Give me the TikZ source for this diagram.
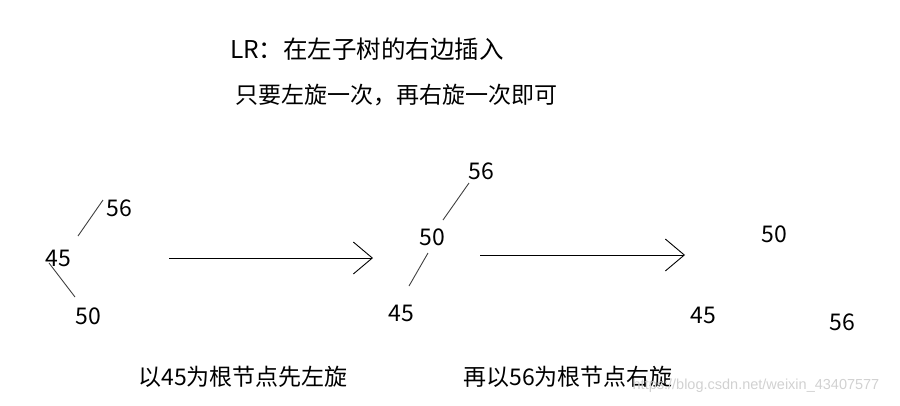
\documentclass[tikz,border=0pt]{standalone}
\usepackage{fontspec}
\setmainfont{Noto Sans CJK SC}
\newfontfamily\urlfont{Liberation Sans}
\usepackage{tikz}
\usetikzlibrary{arrows.meta,positioning}
\tikzstyle{num} = [inner sep=0pt, font=\fontsize{23}{26}\selectfont]
\tikzstyle{note} = [inner sep=0pt, font=\fontsize{23}{26}\selectfont]
\tikzstyle{edge} = [draw, black!75, line width=0.9pt]
\tikzstyle{line} = [draw, line width=0.9pt, -{Straight Barb[length=19pt,width=32pt]}]

\begin{document}
\begin{tikzpicture}[x=1pt, y=-1pt]
    \useasboundingbox (0,0) rectangle (900,405);
    % titel
    \node [note, font=\fontsize{24.5}{28}\selectfont] (title) at (367,49) {LR：在左子树的右边插入};
    \node [note] (hint) at (396,95) {只要左旋一次，再右旋一次即可};
    % eerste boom
    \node [num] (a56) at (119,208) {56};
    \node [num] (a45) at (58,258) {45};
    \node [num] (a50) at (88,316) {50};
    \path [edge] (78,236) -- (103,200);
    \path [edge] (49,263) -- (75,297);
    % tweede boom
    \node [num] (b56) at (481,171) {56};
    \node [num] (b50) at (432,237) {50};
    \node [num] (b45) at (401,313) {45};
    \path [edge] (469,183) -- (443,220);
    \path [edge] (428,253) -- (409,286);
    % derde boom
    \node [num] (c50) at (774,234) {50};
    \node [num] (c45) at (703,315) {45};
    \node [num] (c56) at (842,322) {56};
    % pijlen
    \coordinate (s1) at (169,258);
    \coordinate (e1) at (373,258);
    \coordinate (s2) at (480,255);
    \coordinate (e2) at (685,255);
    \path [line] (s1) -- (e1);
    \path [line] (s2) -- (e2);
    % onderschriften
    \node [note] (left) at (243,377) {以45为根节点先左旋};
    \node [note] (right) at (568,377) {再以56为根节点右旋};
    \node [inner sep=0pt, text=black!18, font=\urlfont\fontsize{14.5}{16}\selectfont] (wm) at (756,386) {https://blog.csdn.net/weixin\_43407577};
\end{tikzpicture}
\end{document}
